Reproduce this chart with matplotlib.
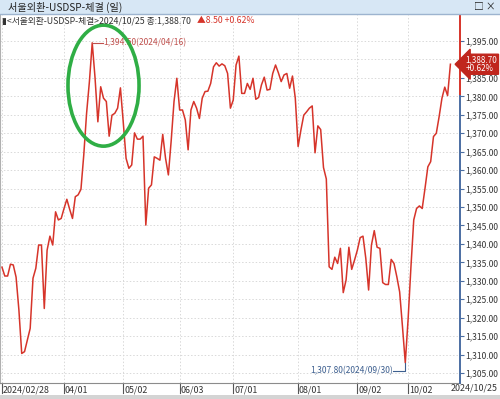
import matplotlib
matplotlib.use("Agg")
import matplotlib.pyplot as plt
from matplotlib.patches import Rectangle, Ellipse
from matplotlib.transforms import blended_transform_factory

plt.rcParams['font.family'] = ['Noto Sans CJK KR', 'DejaVu Sans']

# 서울외환 USD/KRW 종가 (2024/02/28 ~ 2024/10/25, 거래일 기준)
closes = [
    1333.7, 1331.3, 1331.3, 1334.5, 1334.3, 1331.0, 1322.1, 1310.3, 1310.8, 1314.0,
    1317.1, 1330.7, 1333.4, 1339.7, 1339.7, 1322.5, 1338.3, 1342.1, 1339.7, 1348.7,
    1346.5, 1346.9, 1349.6, 1352.1, 1349.4, 1346.9, 1352.8, 1353.3, 1354.8, 1364.1,
    1375.4, 1384.0, 1394.5, 1385.0, 1373.1, 1382.6, 1379.5, 1378.6, 1369.2, 1374.9,
    1375.4, 1376.8, 1382.3, 1373.0, 1363.2, 1360.5, 1361.4, 1370.1, 1368.4, 1368.4,
    1369.2, 1345.1, 1355.1, 1356.0, 1363.6, 1363.2, 1362.7, 1369.7, 1363.2, 1358.7,
    1368.0, 1378.6, 1384.9, 1376.3, 1376.3, 1373.6, 1365.5, 1376.3, 1378.6, 1376.8,
    1374.0, 1379.5, 1381.3, 1381.4, 1383.5, 1388.0, 1389.1, 1388.2, 1388.8, 1388.3,
    1386.2, 1376.8, 1379.0, 1388.5, 1390.9, 1380.8, 1380.8, 1383.5, 1381.9, 1384.9,
    1379.2, 1379.7, 1383.1, 1385.2, 1381.7, 1381.9, 1386.2, 1388.5, 1386.4, 1384.0,
    1385.8, 1386.2, 1382.2, 1385.5, 1379.5, 1366.4, 1370.9, 1374.9, 1375.8, 1376.8,
    1377.4, 1364.7, 1372.0, 1371.0, 1360.7, 1357.6, 1333.8, 1333.1, 1336.4, 1334.7,
    1338.8, 1326.8, 1330.2, 1339.1, 1333.1, 1335.6, 1338.3, 1341.7, 1342.1, 1336.1,
    1327.5, 1339.7, 1343.6, 1339.1, 1338.8, 1329.5, 1329.0, 1329.0, 1335.8, 1334.7,
    1331.1, 1327.0, 1317.6, 1307.8, 1319.6, 1333.7, 1346.5, 1349.6, 1350.3, 1349.6,
    1355.1, 1360.9, 1362.3, 1369.1, 1370.0, 1374.5, 1379.5, 1382.5, 1380.2, 1388.7,
]
tick_idx = [0, 22, 43, 63, 82, 105, 126, 144]
tick_labels = ["2024/02/28", "04/01", "05/02", "06/03", "07/01", "08/01", "09/02", "10/02"]
yticks = list(range(1305, 1400, 5))
prev_close = 1380.2
hi_idx, lo_idx = 32, 143

red = '#d6342a'
blue = '#4b6ea3'
fs = 6.1

fig = plt.figure(figsize=(5, 3.99), dpi=100)
ax = fig.add_axes([0, 1 - 383 / 399, 460 / 500, (383 - 15) / 399])

x = list(range(len(closes)))
ax.plot(x, closes, color=red, lw=1.1, zorder=3)

ax.set_xlim(-0.7, 162.4)
ax.set_ylim(1302.3, 1402.05)

# grid
for t in yticks:
    ax.axhline(t, color='#d9d9d9', lw=0.7, ls=(0, (1.5, 2)), zorder=1)
for t in tick_idx:
    ax.axvline(t, color='#d9d9d9', lw=0.7, ls=(0, (1.5, 2)), zorder=1)

# y axis on right (the 1,390 label sits under the price tag)
ax.yaxis.tick_right()
ax.set_yticks(yticks)
ax.set_yticklabels(["" if v == 1390 else f"{v:,.2f}" for v in yticks])
ax.tick_params(axis='y', length=3, width=0.8, color=blue, pad=1, labelsize=fs, labelcolor='#333333')
ax.set_xticks([])

for s in ['top', 'right']:
    ax.spines[s].set_visible(False)
ax.spines['left'].set_color('#b0b0b0')
ax.spines['bottom'].set_color('#8c8c8c')
ax.spines['bottom'].set_linewidth(0.8)

bt = blended_transform_factory(ax.transAxes, ax.transData)
ax.plot([1, 1], [prev_close, 1402.05], transform=bt, color=red, lw=1.4, clip_on=False, zorder=5)
ax.plot([1, 1], [1302.3, prev_close], transform=bt, color=blue, lw=1.4, clip_on=False, zorder=5)

# x tick labels
xt = blended_transform_factory(ax.transData, ax.transAxes)
for t, lab in zip(tick_idx, tick_labels):
    ax.plot([t, t], [0, -0.028], transform=xt, color='#555555', lw=0.8, clip_on=False)
    ax.text(t + 0.3, -0.006, lab, transform=xt, ha='left', va='top', fontsize=fs + 0.3,
            color='#333333', clip_on=False)
fig.text(0.996, 1 - 383.5 / 399, "2024/10/25", ha='right', va='top', fontsize=fs + 0.3, color='#333333')

# last price tag
ax.text(1.012, closes[-1], f"{closes[-1]:,.2f}\n+0.62%", transform=bt, ha='left', va='center',
        fontsize=5.8, color='white', linespacing=0.95, clip_on=False, zorder=10,
        bbox=dict(boxstyle='larrow,pad=0.15', fc='#c0261d', ec='#c0261d'))

# high / low marks
hi_col = '#c0504d'
ax.plot([hi_idx, hi_idx + 3.7], [closes[hi_idx], closes[hi_idx]], color=hi_col, lw=0.8, zorder=4)
ax.text(hi_idx + 3.9, closes[hi_idx], f"{closes[hi_idx]:,.2f}(2024/04/16)", color=hi_col,
        fontsize=fs, va='center', ha='left', zorder=4)
lo_col = '#3d5f8f'
ax.plot([lo_idx - 4.3, lo_idx, lo_idx], [1305.6, 1305.6, closes[lo_idx]], color=lo_col, lw=0.8, zorder=4)
ax.text(lo_idx - 4.5, 1305.6, f"{closes[lo_idx]:,.2f}(2024/09/30)", color=lo_col,
        fontsize=fs, va='center', ha='right', zorder=4)

# green highlight ellipse
ax.add_patch(Ellipse((36, 1382.9), 25.2, 32.8, fill=False, ec='#2fae45', lw=2.6, zorder=6))

# title bar
fig.add_artist(Rectangle((0, 1 - 14 / 399), 1, 14 / 399, transform=fig.transFigure,
                         fc='#d7e7f5', ec='none'))
fig.add_artist(plt.Line2D([0, 1], [1 - 14 / 399] * 2, transform=fig.transFigure, color='#9db4cf', lw=1))
fig.text(8 / 500, 1 - 7 / 399, "서울외환-USDSP-체결 (일)", fontsize=7.3, color='#222222', va='center')
fig.text(496 / 500, 1 - 7 / 399, "□ ×", fontsize=7, color='#222222', va='center', ha='right')

# legend line
fig.text(2 / 500, 1 - 20.5 / 399, "▮<서울외환-USDSP-체결>2024/10/25 종:1,388.70", fontsize=6.3,
         color='#333333', va='center')
fig.text(197 / 500, 1 - 20.5 / 399, "▲8.50 +0.62%", fontsize=6.3, color='#d6342a', va='center')

# bottom bar
fig.add_artist(Rectangle((0, 0), 1, 4 / 399, transform=fig.transFigure, fc='#d4d4d4', ec='none'))

fig.savefig("out.png", dpi=100)
